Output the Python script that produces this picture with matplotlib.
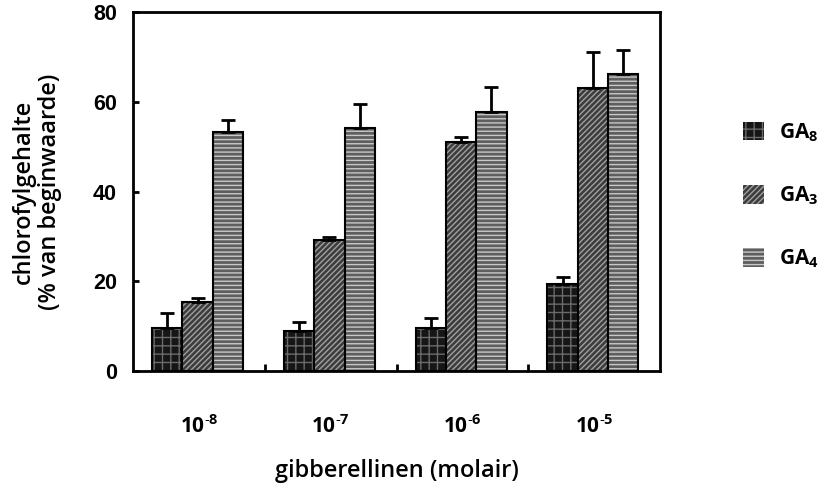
import matplotlib
matplotlib.use("Agg")
import matplotlib.pyplot as plt
import numpy as np
from matplotlib.patches import Patch

plt.rcParams["font.family"] = ["Open Sans", "DejaVu Sans"]
plt.rcParams["mathtext.fontset"] = "custom"
plt.rcParams["mathtext.rm"] = "Open Sans:bold"
plt.rcParams["mathtext.it"] = "Open Sans:bold"
plt.rcParams["mathtext.bf"] = "Open Sans:bold"
plt.rcParams["hatch.linewidth"] = 1.0

concentrations = ["10$^{\u20108}$", "10$^{\u20107}$", "10$^{\u20106}$", "10$^{\u20105}$"]
series = ["GA$_8$", "GA$_3$", "GA$_4$"]
ga8 = [9.6, 8.9, 9.6, 19.5]
ga8_err = [3.3, 2.1, 2.3, 1.5]
ga3 = [15.4, 29.2, 51.0, 63.1]
ga3_err = [0.9, 0.7, 1.2, 8.1]
ga4 = [53.3, 54.2, 57.8, 66.2]
ga4_err = [2.6, 5.3, 5.6, 5.3]

styles = [
    # face, hatch, hatch colour
    ("#161616", "++", "#6a6a6a"),
    ("#3c3c3c", "//////", "#a0a0a0"),
    ("#5e5e5e", "----", "#c8c8c8"),
]

fig = plt.figure(figsize=(8.25, 4.87), dpi=100)
ax = fig.add_axes([0.1612, 0.238, 0.639, 0.737])

x = np.arange(len(concentrations))
width = 0.23
values = [ga8, ga3, ga4]
errors = [ga8_err, ga3_err, ga4_err]
for i, (vals, errs, (face, hatch, hcol)) in enumerate(zip(values, errors, styles)):
    pos = x + (i - 1) * width - 0.01
    ax.bar(pos, vals, width, color=face, hatch=hatch, edgecolor=hcol, linewidth=0)
    ax.bar(pos, vals, width, facecolor="none", edgecolor="black", linewidth=1.5)
    ax.errorbar(pos, vals, yerr=[np.zeros(len(errs)), errs], fmt="none",
                ecolor="black", elinewidth=2, capsize=5, capthick=2)

ax.set_xlim(-0.5, 3.5)
ax.set_ylim(0, 80)
ax.set_yticks([0, 20, 40, 60, 80])
ax.set_xticks(x)
ax.set_xticklabels(concentrations, fontsize=15, fontweight="bold")
ax.set_xticks([0.5, 1.5, 2.5], minor=True)
ax.tick_params(axis="x", which="major", length=0, pad=32)
ax.tick_params(axis="x", which="minor", direction="in", length=5, width=2)
ax.tick_params(axis="y", direction="in", length=4, width=2, pad=11.5)
for lab in ax.get_yticklabels():
    lab.set_fontfamily("Liberation Sans")
    lab.set_fontweight("bold")
    lab.set_fontsize(15.5)
for sp in ax.spines.values():
    sp.set_linewidth(2)

ax.set_xlabel("gibberellinen (molair)", fontsize=17, fontweight="semibold",
              labelpad=15)
ax.set_ylabel("chlorofylgehalte\n(% van beginwaarde)", fontsize=17,
              fontweight="semibold", labelpad=22, linespacing=1.15)

handles = [Patch(facecolor=f, hatch=h, edgecolor=c, linewidth=0) for f, h, c in styles]
fig.legend(handles, series, loc="center left", bbox_to_anchor=(0.9006, 0.598),
           frameon=False, handlelength=1.0, handleheight=1.0,
           labelspacing=1.95, handletextpad=0.72, borderpad=0, borderaxespad=0,
           prop={"family": "Open Sans", "weight": "bold", "size": 15})

fig.savefig("out.png", dpi=100)
